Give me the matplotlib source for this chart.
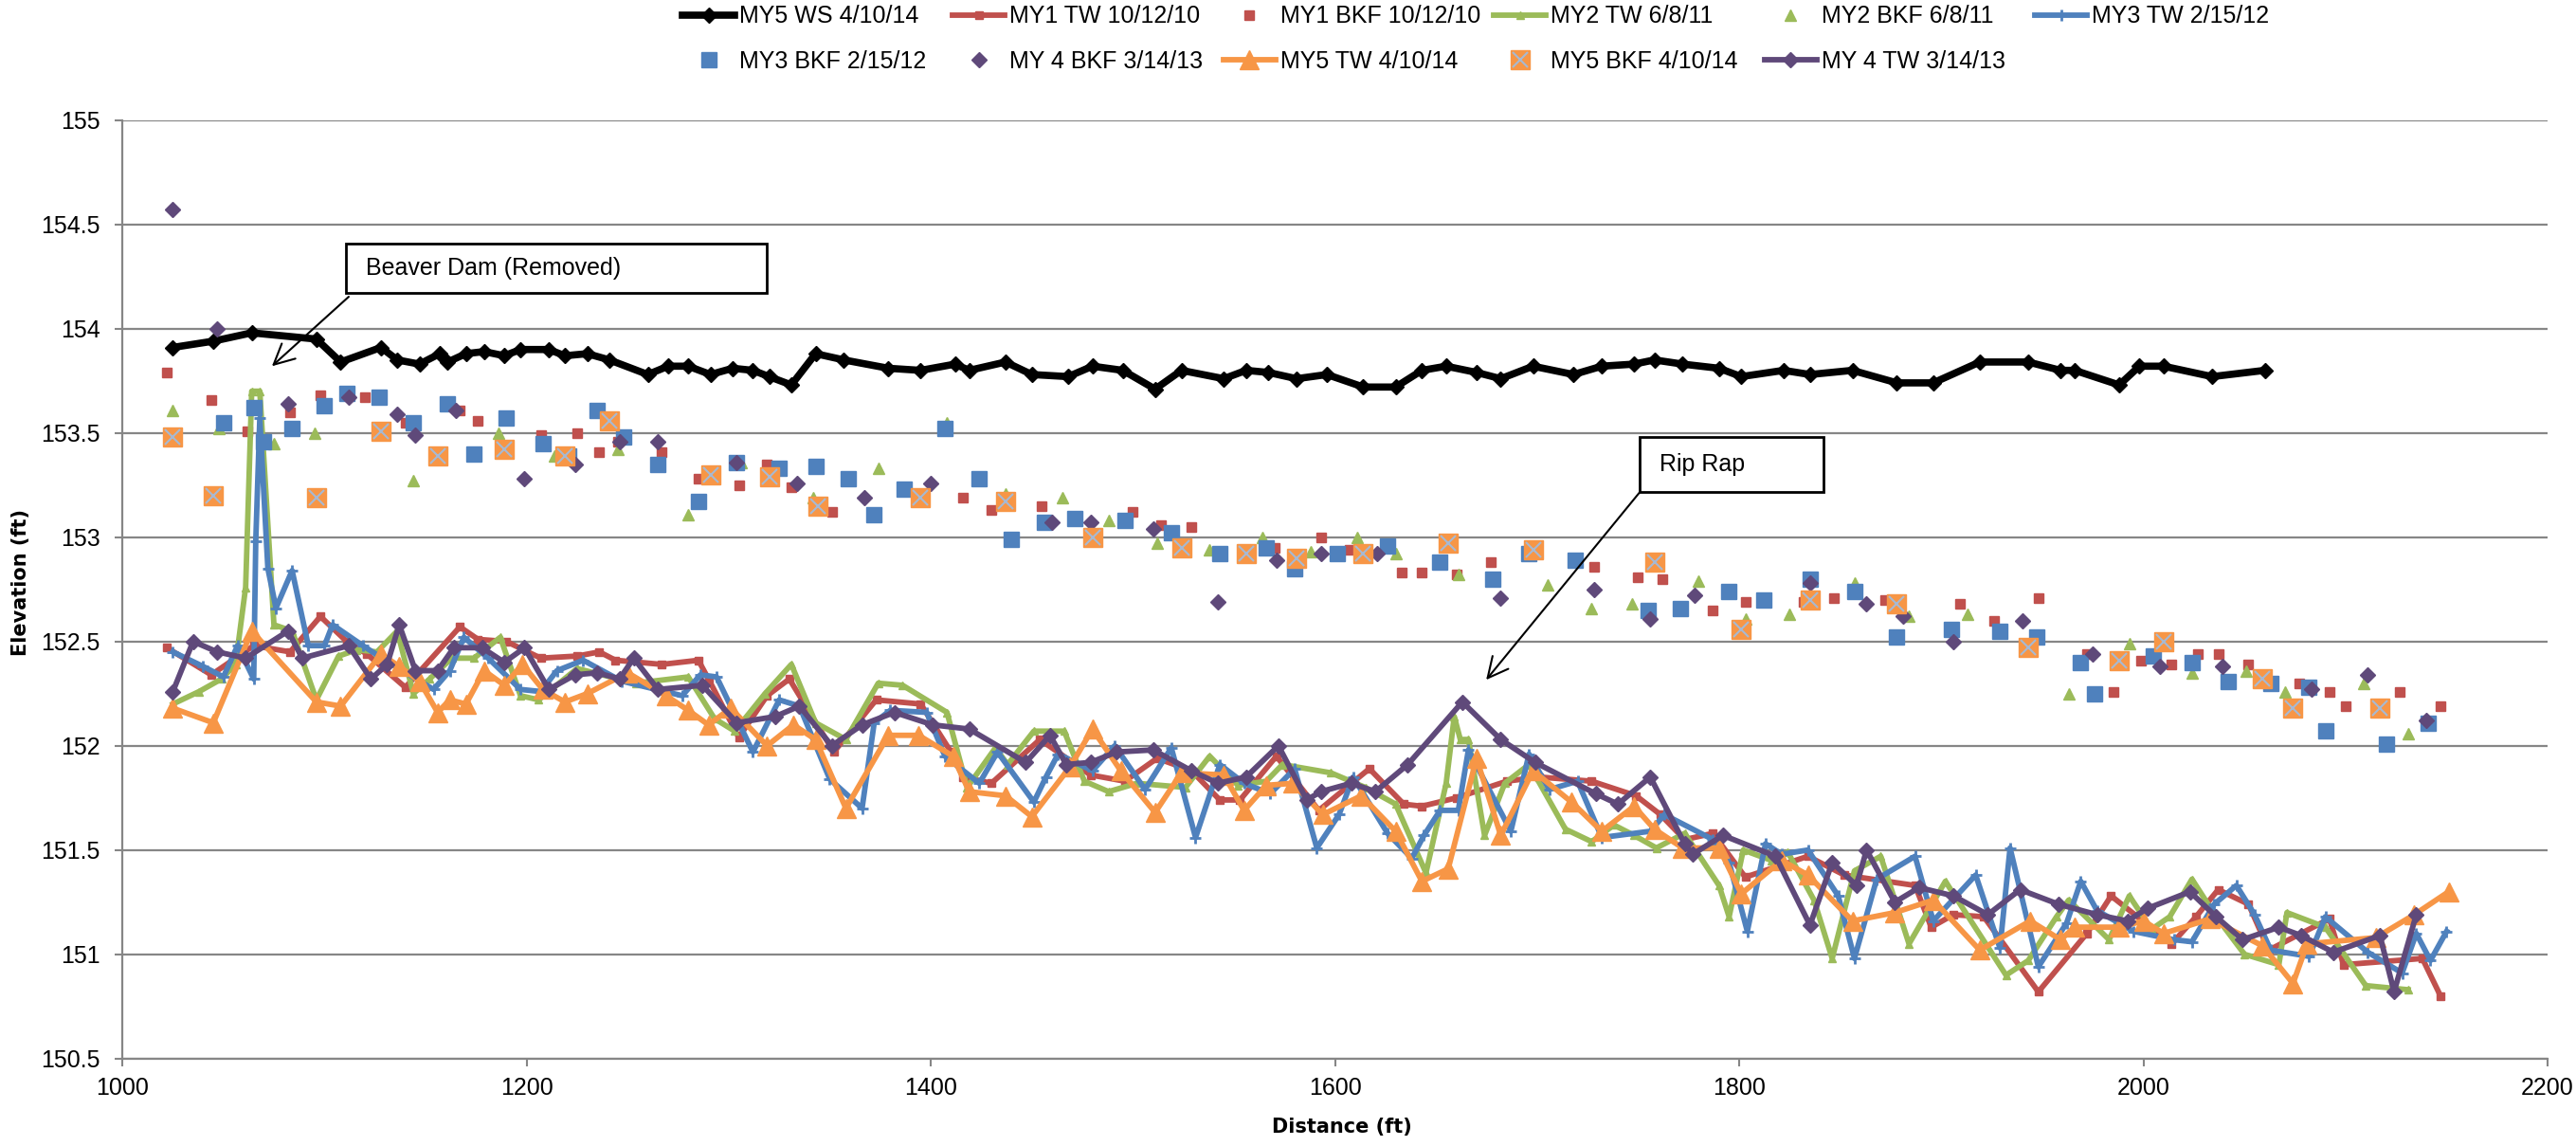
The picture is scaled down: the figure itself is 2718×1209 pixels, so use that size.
import matplotlib
matplotlib.use('Agg')
import matplotlib.pyplot as plt
from matplotlib.patches import Rectangle
from matplotlib.legend_handler import HandlerTuple

# Water surface
ws_x = [1025,1045,1064,1096,1108,1128,1136,1147,1157,1161,1170,1179,1189,1197,1211,1219,1230,1241,1260,1270,
        1280,1291,1302,1312,1320,1331,1343,1357,1379,1395,1412,1419,1437,1450,1468,1480,1495,1511,1524,1545,
        1556,1567,1581,1596,1614,1630,1643,1655,1670,1682,1698,1718,1732,1748,1758,1772,1790,1801,1822,1835,
        1856,1878,1896,1919,1943,1959,1966,1988,1998,2010,2034,2060]
ws_y = [153.91,153.94,153.98,153.95,153.84,153.91,153.85,153.83,153.88,153.84,153.88,153.89,153.87,153.90,153.90,
        153.87,153.88,153.85,153.78,153.82,153.82,153.78,153.81,153.80,153.77,153.73,153.88,153.85,153.81,153.80,
        153.83,153.80,153.84,153.78,153.77,153.82,153.80,153.71,153.80,153.76,153.80,153.79,153.76,153.78,153.72,
        153.72,153.80,153.82,153.79,153.76,153.82,153.78,153.82,153.83,153.85,153.83,153.81,153.77,153.80,153.78,
        153.80,153.74,153.74,153.84,153.84,153.80,153.80,153.73,153.82,153.82,153.77,153.80]

# Thalweg surveys
my1_tw_x = [1022,1044,1065,1083,1098,1111,1121,1140,1167,1176,1190,1207,1225,1236,1244,1267,1285,1290,1305,1319,
            1330,1352,1373,1395,1410,1416,1430,1454,1479,1496,1512,1529,1543,1553,1571,1592,1617,1634,1643,1660,
            1685,1701,1727,1749,1761,1773,1787,1803,1834,1852,1887,1895,1906,1921,1948,1972,1984,2014,2026,2037,
            2052,2062,2092,2099,2138,2147]
my1_tw_y = [152.47,152.34,152.48,152.45,152.62,152.50,152.44,152.28,152.57,152.51,152.50,152.42,152.43,152.45,152.41,
            152.39,152.41,152.32,152.04,152.24,152.32,151.97,152.22,152.20,151.97,151.85,151.82,152.03,151.86,151.83,
            151.94,151.88,151.74,151.74,151.95,151.69,151.89,151.72,151.71,151.75,151.83,151.85,151.83,151.76,151.67,
            151.55,151.58,151.37,151.47,151.38,151.33,151.13,151.19,151.18,150.82,151.10,151.28,151.05,151.18,151.31,
            151.24,151.02,151.17,150.95,150.98,150.80]

my2_tw_x = [1025,1038,1049,1056,1061,1064,1068,1075,1084,1096,1107,1116,1126,1136,1144,1152,1163,1174,1187,1197,
            1206,1225,1254,1280,1293,1303,1318,1331,1343,1358,1374,1386,1408,1418,1432,1438,1451,1466,1476,1488,
            1502,1526,1538,1552,1566,1574,1598,1615,1630,1645,1655,1659,1662,1666,1674,1684,1696,1714,1727,1738,
            1748,1759,1773,1790,1795,1802,1816,1824,1837,1846,1857,1870,1884,1902,1932,1943,1957,1963,1983,1993,
            2004,2013,2024,2036,2050,2067,2071,2090,2110,2131]
my2_tw_y = [152.20,152.26,152.32,152.39,152.76,153.70,153.70,152.58,152.55,152.22,152.43,152.46,152.45,152.55,152.25,
            152.32,152.42,152.42,152.52,152.24,152.22,152.37,152.30,152.33,152.13,152.07,152.25,152.39,152.11,152.03,
            152.30,152.29,152.16,151.80,151.99,151.91,152.07,152.07,151.83,151.78,151.82,151.80,151.95,151.81,151.83,
            151.91,151.87,151.80,151.72,151.39,151.82,152.14,152.03,152.03,151.57,151.82,151.91,151.60,151.54,151.62,
            151.57,151.51,151.58,151.33,151.18,151.50,151.45,151.49,151.26,150.98,151.40,151.47,151.05,151.35,150.90,
            150.97,151.18,151.26,151.07,151.28,151.12,151.18,151.36,151.18,151.00,150.95,151.20,151.13,150.85,150.83]

my3_tw_x = [1025,1040,1050,1057,1065,1066,1068,1072,1076,1084,1092,1100,1104,1119,1130,1154,1162,1169,1181,1197,
            1207,1215,1228,1247,1277,1286,1294,1312,1325,1335,1350,1366,1372,1380,1398,1407,1424,1433,1451,1457,
            1463,1480,1491,1506,1519,1531,1543,1555,1568,1580,1591,1602,1609,1626,1638,1644,1652,1661,1666,1687,
            1696,1706,1720,1732,1756,1763,1787,1795,1804,1813,1821,1834,1849,1857,1868,1887,1896,1917,1929,1934,
            1948,1962,1969,1977,1995,2015,2024,2035,2046,2055,2063,2082,2090,2111,2128,2135,2142,2150]
my3_tw_y = [152.45,152.38,152.33,152.48,152.32,152.98,153.57,152.85,152.66,152.84,152.48,152.48,152.58,152.48,152.41,
            152.27,152.36,152.52,152.42,152.27,152.26,152.36,152.41,152.31,152.24,152.34,152.33,151.97,152.22,152.19,
            151.84,151.70,152.11,152.17,152.16,151.95,151.82,151.97,151.73,151.85,151.96,151.88,152.00,151.79,151.99,
            151.56,151.91,151.82,151.77,151.89,151.51,151.67,151.85,151.58,151.46,151.57,151.69,151.69,151.98,151.59,
            151.96,151.79,151.83,151.56,151.59,151.67,151.55,151.44,151.11,151.53,151.48,151.50,151.28,150.98,151.36,
            151.47,151.16,151.38,151.03,151.51,150.94,151.15,151.35,151.21,151.11,151.07,151.06,151.24,151.33,151.19,
            151.02,150.99,151.18,151.01,150.91,151.10,150.97,151.11]

my4_tw_x = [1025,1035,1047,1061,1082,1089,1112,1123,1131,1137,1145,1156,1164,1178,1189,1199,1211,1224,1235,1246,
            1253,1265,1287,1304,1323,1335,1351,1366,1382,1401,1419,1447,1459,1467,1479,1492,1510,1529,1542,1556,
            1572,1586,1593,1608,1620,1636,1663,1682,1699,1729,1740,1756,1773,1777,1792,1818,1835,1846,1858,1863,
            1877,1889,1906,1923,1939,1958,1977,1992,2002,2023,2036,2049,2067,2078,2094,2117,2124,2135]
my4_tw_y = [152.26,152.50,152.45,152.42,152.55,152.42,152.48,152.32,152.39,152.58,152.36,152.36,152.47,152.47,152.40,
            152.47,152.27,152.34,152.35,152.32,152.42,152.27,152.29,152.11,152.14,152.19,152.00,152.10,152.16,152.10,
            152.08,151.92,152.05,151.91,151.92,151.97,151.98,151.88,151.82,151.85,152.00,151.74,151.78,151.82,151.78,
            151.91,152.21,152.03,151.92,151.77,151.72,151.85,151.53,151.48,151.57,151.47,151.14,151.44,151.33,151.50,
            151.25,151.32,151.28,151.19,151.31,151.24,151.19,151.16,151.22,151.30,151.18,151.07,151.13,151.09,151.01,
            151.09,150.82,151.19]

my5_tw_x = [1025,1045,1064,1096,1108,1128,1137,1147,1156,1162,1170,1179,1189,1198,1208,1219,1230,1250,1269,1280,
            1290,1301,1319,1332,1343,1358,1379,1394,1411,1419,1437,1450,1469,1480,1494,1511,1524,1545,1555,1566,
            1579,1594,1613,1630,1643,1656,1670,1682,1698,1717,1732,1748,1758,1772,1790,1801,1821,1834,1856,1877,
            1896,1919,1944,1959,1966,1988,2000,2010,2033,2059,2074,2081,2115,2134,2151]
my5_tw_y = [152.18,152.11,152.55,152.21,152.19,152.44,152.38,152.31,152.16,152.22,152.20,152.36,152.29,152.39,152.27,
            152.21,152.25,152.35,152.24,152.17,152.10,152.18,152.00,152.10,152.03,151.70,152.05,152.05,151.95,151.78,
            151.76,151.66,151.90,152.08,151.88,151.68,151.87,151.86,151.69,151.81,151.82,151.67,151.76,151.59,151.35,
            151.41,151.94,151.57,151.88,151.73,151.59,151.71,151.60,151.51,151.51,151.29,151.45,151.38,151.16,151.20,
            151.26,151.02,151.16,151.07,151.13,151.13,151.16,151.10,151.17,151.04,150.86,151.05,151.08,151.19,151.30]

# Bankfull points
my1_bkf_x = [1022,1044,1062,1083,1098,1120,1140,1167,1176,1207,1225,1236,1245,1267,1285,1305,1319,1331,1351,1416,
             1430,1455,1500,1514,1529,1570,1593,1607,1633,1643,1660,1677,1728,1750,1762,1787,1803,1832,1847,1872,
             1909,1926,1948,1972,1985,1999,2014,2027,2037,2052,2077,2092,2100,2127,2147]
my1_bkf_y = [153.79,153.66,153.51,153.60,153.68,153.67,153.55,153.61,153.56,153.49,153.50,153.41,153.46,153.41,153.28,
             153.25,153.35,153.24,153.12,153.19,153.13,153.15,153.12,153.06,153.05,152.95,153.00,152.94,152.83,152.83,
             152.82,152.88,152.86,152.81,152.80,152.65,152.69,152.69,152.71,152.70,152.68,152.60,152.71,152.44,152.26,
             152.41,152.39,152.44,152.44,152.39,152.30,152.26,152.19,152.26,152.19]

my2_bkf_x = [1025,1048,1075,1095,1144,1186,1214,1245,1280,1306,1342,1374,1408,1437,1465,1488,1512,1538,1564,1588,
             1611,1630,1661,1705,1727,1747,1780,1803,1825,1857,1884,1913,1963,1993,2024,2051,2070,2109,2131]
my2_bkf_y = [153.61,153.52,153.45,153.50,153.27,153.50,153.39,153.42,153.11,153.36,153.19,153.33,153.55,153.21,153.19,
             153.08,152.97,152.94,153.00,152.93,153.00,152.92,152.82,152.77,152.66,152.68,152.79,152.61,152.63,152.78,
             152.62,152.63,152.25,152.49,152.35,152.36,152.26,152.30,152.06]

my3_bkf_x = [1050,1065,1070,1084,1100,1111,1127,1144,1161,1174,1190,1208,1221,1235,1248,1265,1285,1304,1325,1343,
             1359,1372,1387,1407,1424,1440,1456,1471,1496,1519,1543,1566,1580,1601,1626,1652,1678,1696,1719,1755,
             1771,1795,1812,1835,1857,1878,1905,1929,1947,1969,1976,2005,2024,2042,2063,2082,2090,2120,2141]
my3_bkf_y = [153.55,153.62,153.46,153.52,153.63,153.69,153.67,153.55,153.64,153.40,153.57,153.45,153.39,153.61,153.48,
             153.35,153.17,153.36,153.33,153.34,153.28,153.11,153.23,153.52,153.28,152.99,153.07,153.09,153.08,153.02,
             152.92,152.95,152.85,152.92,152.96,152.88,152.80,152.92,152.89,152.65,152.66,152.74,152.70,152.80,152.74,
             152.52,152.56,152.55,152.52,152.40,152.25,152.43,152.40,152.31,152.30,152.28,152.07,152.01,152.11]

my4_bkf_x = [1025,1047,1082,1112,1136,1145,1165,1199,1224,1246,1265,1304,1334,1367,1400,1460,1479,1510,1542,1571,
             1593,1621,1682,1728,1756,1778,1835,1863,1881,1906,1940,1975,2008,2039,2083,2111,2140]
my4_bkf_y = [154.57,154.00,153.64,153.67,153.59,153.49,153.61,153.28,153.35,153.46,153.46,153.36,153.26,153.19,153.26,
             153.07,153.07,153.04,152.69,152.89,152.92,152.92,152.71,152.75,152.61,152.72,152.78,152.68,152.62,152.50,
             152.60,152.44,152.38,152.38,152.27,152.34,152.12]

my5_bkf_x = [1025,1045,1096,1128,1156,1189,1219,1241,1291,1320,1344,1395,1437,1480,1524,1556,1581,1614,1656,1698,
             1758,1801,1835,1878,1943,1988,2010,2059,2074,2117]
my5_bkf_y = [153.48,153.20,153.19,153.51,153.39,153.42,153.39,153.56,153.30,153.29,153.15,153.19,153.17,153.00,152.95,
             152.92,152.90,152.92,152.97,152.94,152.88,152.56,152.70,152.68,152.47,152.41,152.50,152.32,152.18,152.18]

# colores tipo Excel
rojo = '#C0504D'
verde = '#9BBB59'
azul = '#4F81BD'
morado = '#5F497A'
naranja = '#F79646'
gris = '#868686'

fuente = ['Liberation Sans Narrow', 'Liberation Sans', 'DejaVu Sans']

fig = plt.figure(figsize=(27.18, 12.09), dpi=100)
ax = fig.add_axes([0.0475, 0.0763, 0.9415, 0.8189])

lw_tw = 4.2
h = {}
h['ws'], = ax.plot(ws_x, ws_y, color='black', lw=5.5, marker='D', ms=8.5, label='MY5 WS 4/10/14')
h['my1_tw'], = ax.plot(my1_tw_x, my1_tw_y, color=rojo, lw=lw_tw, marker='s', ms=6, label='MY1 TW 10/12/10')
h['my1_bkf'], = ax.plot(my1_bkf_x, my1_bkf_y, ls='none', color=rojo, marker='s', ms=6.5, label='MY1 BKF 10/12/10')
h['my2_tw'], = ax.plot(my2_tw_x, my2_tw_y, color=verde, lw=lw_tw, marker='^', ms=6, label='MY2 TW 6/8/11')
h['my2_bkf'], = ax.plot(my2_bkf_x, my2_bkf_y, ls='none', color=verde, marker='^', ms=9, label='MY2 BKF 6/8/11')
h['my3_tw'], = ax.plot(my3_tw_x, my3_tw_y, color=azul, lw=lw_tw, marker='+', ms=8, mew=2, label='MY3 TW 2/15/12')
h['my3_bkf'], = ax.plot(my3_bkf_x, my3_bkf_y, ls='none', color=azul, marker='s', ms=11, label='MY3 BKF 2/15/12')
h['my4_bkf'], = ax.plot(my4_bkf_x, my4_bkf_y, ls='none', color=morado, marker='D', ms=8, label='MY 4 BKF 3/14/13')
h['my5_tw'], = ax.plot(my5_tw_x, my5_tw_y, color=naranja, lw=lw_tw, marker='^', ms=15, label='MY5 TW 4/10/14')
bkf5_sq, = ax.plot(my5_bkf_x, my5_bkf_y, ls='none', color=naranja, marker='s', ms=14)
bkf5_x, = ax.plot(my5_bkf_x, my5_bkf_y, ls='none', color='#A7B9D3', marker='x', ms=12, mew=1.5)
h['my5_bkf'] = (bkf5_sq, bkf5_x)
h['my4_tw'], = ax.plot(my4_tw_x, my4_tw_y, color=morado, lw=lw_tw, marker='D', ms=8, label='MY 4 TW 3/14/13')

# ejes
ax.set_xlim(1000, 2200)
ax.set_ylim(150.5, 155)
ax.set_xticks(range(1000, 2201, 200))
ax.set_yticks([150.5 + 0.5 * i for i in range(10)])
ax.set_yticklabels(['%g' % (150.5 + 0.5 * i) for i in range(10)])
ax.yaxis.grid(True, color=gris, lw=1.6)
ax.set_axisbelow(True)
for lado in ['top', 'right']:
    ax.spines[lado].set_visible(False)
for lado in ['left', 'bottom']:
    ax.spines[lado].set_color(gris)
    ax.spines[lado].set_linewidth(1.6)
ax.tick_params(direction='out', length=6, width=1.5, color=gris, labelsize=18)
ax.tick_params(axis='y', pad=11)
ax.tick_params(axis='x', pad=8)
for t in ax.get_xticklabels() + ax.get_yticklabels():
    t.set_family(fuente)

fig.text(1416 / 2718, 1 - 1189 / 1209, 'Distance (ft)', ha='center', va='center',
         fontsize=15, fontweight='bold', family='DejaVu Sans')
fig.text(22 / 2718, 1 - 615 / 1209, 'Elevation (ft)', ha='center', va='center', rotation=90,
         fontsize=15, fontweight='bold', family='DejaVu Sans')

# notas
ax.add_patch(Rectangle((1110.7, 154.17), 208.2, 0.24, facecolor='white', edgecolor='black', lw=2, zorder=5))
ax.text(1120.5, 154.29, 'Beaver Dam (Removed)', ha='left', va='center', fontsize=18, family=fuente, zorder=6)
ax.annotate('', xy=(1074, 153.82), xytext=(1112, 154.153),
            arrowprops=dict(arrowstyle='->,head_length=0.7,head_width=0.35', lw=1.5, color='black',
                            mutation_scale=22, shrinkA=0, shrinkB=0), zorder=6)

ax.add_patch(Rectangle((1750.8, 153.216), 90.9, 0.264, facecolor='white', edgecolor='black', lw=2, zorder=5))
ax.text(1760.6, 153.35, 'Rip Rap', ha='left', va='center', fontsize=18, family=fuente, zorder=6)
ax.annotate('', xy=(1674.8, 152.316), xytext=(1750.8, 153.216),
            arrowprops=dict(arrowstyle='->,head_length=0.7,head_width=0.35', lw=1.5, color='black',
                            mutation_scale=22, shrinkA=0, shrinkB=0), zorder=6)

# leyenda: una columna por cada posicion, dos filas
columnas = [['ws', 'my3_bkf'], ['my1_tw', 'my4_bkf'], ['my1_bkf', 'my5_tw'],
            ['my2_tw', 'my5_bkf'], ['my2_bkf', 'my4_tw'], ['my3_tw']]
etiquetas = {'ws': 'MY5 WS 4/10/14', 'my1_tw': 'MY1 TW 10/12/10', 'my1_bkf': 'MY1 BKF 10/12/10',
             'my2_tw': 'MY2 TW 6/8/11', 'my2_bkf': 'MY2 BKF 6/8/11', 'my3_tw': 'MY3 TW 2/15/12',
             'my3_bkf': 'MY3 BKF 2/15/12', 'my4_bkf': 'MY 4 BKF 3/14/13', 'my5_tw': 'MY5 TW 4/10/14',
             'my5_bkf': 'MY5 BKF 4/10/14', 'my4_tw': 'MY 4 TW 3/14/13'}
for i, col in enumerate(columnas):
    x0 = (720 + 285.4 * i) / 2718
    leg = fig.legend([h[k] for k in col], [etiquetas[k] for k in col], loc='upper left',
                     bbox_to_anchor=(x0, 0.9955), frameon=False, borderpad=0, borderaxespad=0,
                     handlelength=2.2, handletextpad=0.2, labelspacing=0.95, numpoints=1,
                     handler_map={tuple: HandlerTuple(ndivide=1)},
                     prop={'family': fuente, 'size': 18})

plt.savefig('out.png', dpi=100)
